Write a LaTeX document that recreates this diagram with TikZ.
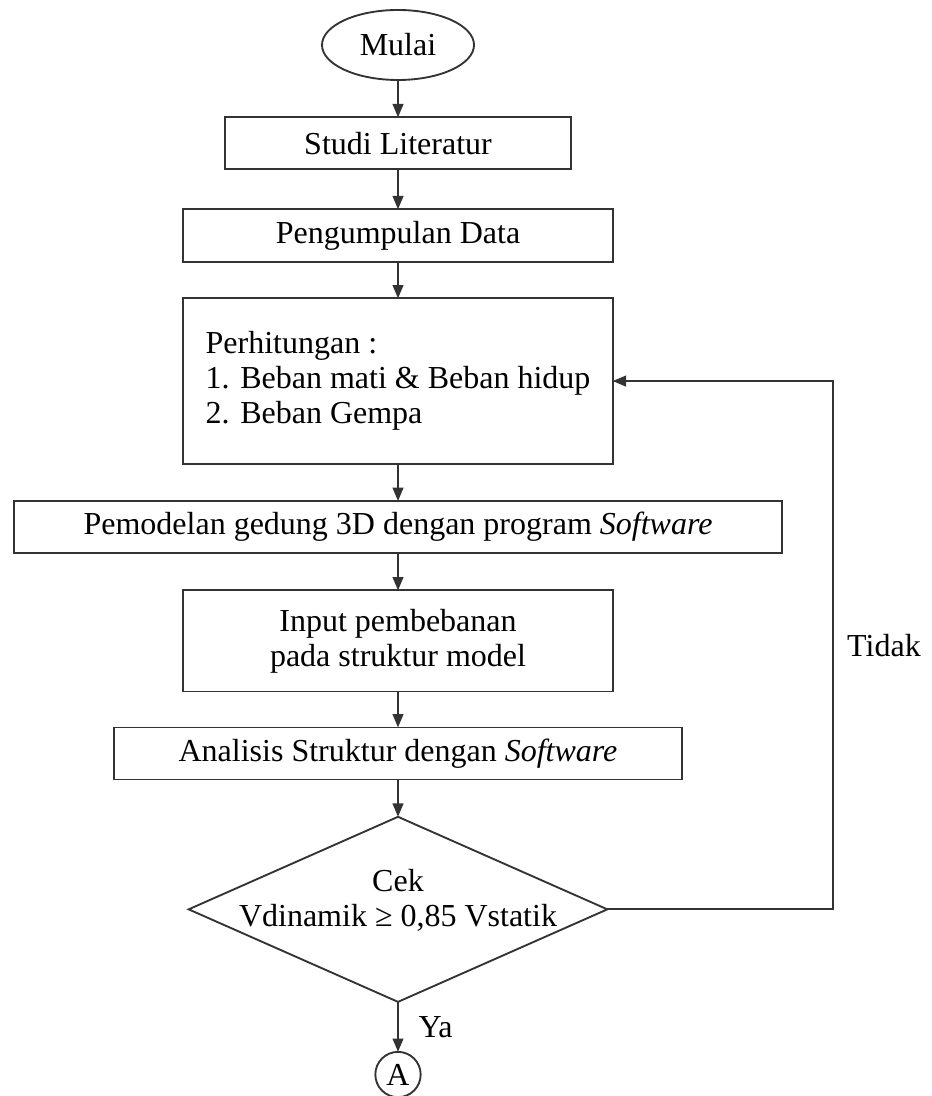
\documentclass[tikz,border=0pt]{standalone}
\usepackage{fontspec}
\setmainfont{Liberation Serif}
\usetikzlibrary{calc,arrows.meta,positioning,shapes.geometric}
\tikzset{
  proc/.style={draw=black!80, line width=0.7pt, align=center, fill=white,
    minimum height=19.5pt, inner sep=2pt, outer sep=0pt},
  terminal/.style={ellipse, draw=black!80, line width=0.7pt, minimum width=57pt,
    minimum height=26.25pt, inner sep=0pt, outer sep=0pt},
  decision/.style={diamond, draw=black!80, line width=0.7pt, minimum width=157pt,
    minimum height=69.4pt, inner sep=0pt, outer sep=0pt, aspect=2.26},
  connector/.style={circle, draw=black!80, line width=0.7pt, minimum size=17pt,
    inner sep=0pt, outer sep=0pt},
  arr/.style={-{Triangle[length=5pt,width=4pt]}, line width=0.7pt, draw=black!80},
  lbl/.style={inner sep=0pt, anchor=west}
}

\begin{document}
\begin{tikzpicture}[x=0.375pt, y=-0.375pt, node distance=14pt,
    font=\fontsize{12}{13.1}\selectfont]
  \useasboundingbox (0,0) rectangle (931,1096);

  \node[terminal] (mulai) at (398,45) {Mulai};
  \node[proc, minimum width=130pt, below=of mulai] (studi) {Studi Literatur};
  \node[proc, minimum width=161pt, minimum height=19.9pt, below=15pt of studi] (data) {Pengumpulan Data};
  \node[proc, minimum width=161pt, minimum height=62pt, align=left, below=13.5pt of data] (hitung)
    {Perhitungan :\\1. Beban mati \& Beban hidup\\2. Beban Gempa};
  \node[proc, minimum width=288pt, below=of hitung] (model)
    {Pemodelan gedung 3D dengan program \textit{Software}};
  \node[proc, minimum width=161pt, minimum height=37.9pt, below=of model] (input)
    {Input pembebanan\\pada struktur model};
  \node[proc, minimum width=213pt, below=13.5pt of input] (analisis)
    {Analisis Struktur dengan \textit{Software}};
  \node[decision, below=of analisis,
    label={[align=center, yshift=3.5pt]center:{Cek\\Vdinamik ≥ 0,85 Vstatik}}] (cek) {};
  \node[connector, below=18.75pt of cek] (A) {A};

  \draw[arr] (mulai) -- (studi);
  \draw[arr] (studi) -- (data);
  \draw[arr] (data) -- (hitung);
  \draw[arr] (hitung) -- (model);
  \draw[arr] (model) -- (input);
  \draw[arr] (input) -- (analisis);
  \draw[arr] (analisis) -- (cek);
  \draw[arr] (cek) -- (A);

  % loop back when the check fails
  \coordinate (turn) at ($(cek.east)+(84.75pt,0)$);
  \coordinate (turntop) at (turn |- hitung.east);
  \draw[arr] (cek.east) -- (turn) |- (hitung.east);

  \node[lbl, xshift=5pt] (tidak) at ($(turn)!0.5!(turntop)$) {Tidak};
  \node[lbl, xshift=7.5pt] (ya) at ($(cek.south)!0.5!(A.north)$) {Ya};
\end{tikzpicture}
\end{document}
